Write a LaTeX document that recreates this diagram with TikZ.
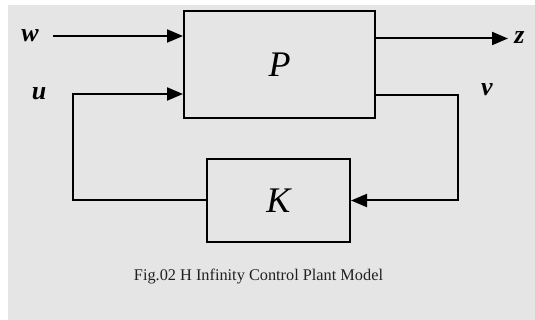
\documentclass[tikz,border=0pt]{standalone}
\usepackage{fontspec}
\setmainfont{Liberation Serif}
\usepackage{tikz}
\usetikzlibrary{arrows.meta, positioning, calc}
\definecolor{bggray}{HTML}{E5E5E5}
\definecolor{captiongray}{HTML}{202020}

\begin{document}
\begin{tikzpicture}[x=1pt, y=-1pt,
  block/.style={rectangle, draw, line width=2pt, inner sep=0pt},
  flow/.style={-{Triangle[length=16pt, width=13pt]}, line width=2pt},
  signal/.style={font=\fontsize{26}{26}\selectfont\bfseries\itshape, inner sep=0pt}
]

% Background
\fill[white] (0,0) rectangle (535,320);
\fill[bggray] (8,5) rectangle (535,320);
\useasboundingbox (0,0) rectangle (535,320);

% Plant and controller
\node[block, minimum width=191pt, minimum height=107pt,
      font=\fontsize{36}{36}\selectfont\itshape] (plant) at (279.5,64.5) {P};
\node[block, minimum width=143pt, minimum height=83pt,
      font=\fontsize{36}{36}\selectfont\itshape] (ctrl) at (278.5,200.5) {K};

% Signal labels
\node[signal] (w) at (30,36) {w};
\node[signal] (u) at (39,94) {u};
\node[signal] (v) at (487,90) {v};
\node[signal] (z) at (519.5,37.5) {z};

\coordinate (wstart) at (53,36);
\coordinate (zend) at (508,38.5);
\coordinate (ucorner) at (73,94);
\coordinate (vcorner) at (458,95);

% Exogenous input and performance output
\draw[flow] (wstart) -- (wstart -| plant.west);
\draw[flow] (zend -| plant.east) -- (zend);

% Feedback loop
\draw[flow] (ctrl.west) -| (ucorner) -- (ucorner -| plant.west);
\draw[flow] (vcorner -| plant.east) -- (vcorner) |- (ctrl.east);

% Caption
\node[font=\fontsize{16.3}{16.3}\selectfont, text=captiongray] (caption) at (258.5,277)
  {Fig.02 H Infinity Control Plant Model};

\end{tikzpicture}
\end{document}
